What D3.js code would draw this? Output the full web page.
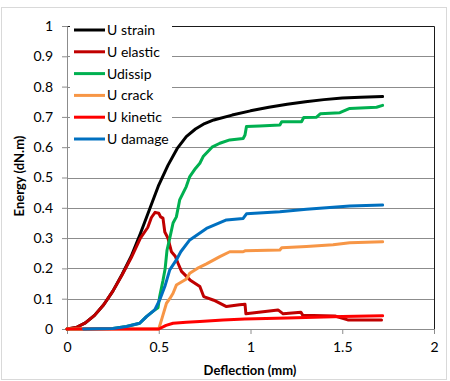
<!DOCTYPE html>
<style>
    body { margin: 0; background: #fff; }
    text { font-family: Lato, "Liberation Sans", sans-serif; fill: #000; }
    .axis-title { font-size: 13px; font-weight: bold; }
    .legend text { font-size: 14px; }
</style>
<body>
<script src="https://d3js.org/d3.v7.min.js"></script>
<script>
// series: [deflection mm, energy dN.m]
var strain = [[0,0],[0.05,0.005],[0.1,0.02],[0.15,0.045],[0.2,0.08],[0.25,0.125],[0.3,0.18],[0.35,0.24],
    [0.4,0.315],[0.45,0.395],[0.5,0.475],[0.55,0.54],[0.6,0.595],[0.65,0.635],[0.7,0.66],[0.75,0.678],
    [0.8,0.69],[0.9,0.706],[1.0,0.72],[1.1,0.732],[1.2,0.742],[1.3,0.75],[1.4,0.757],[1.5,0.762],[1.6,0.765],[1.72,0.767]];
var elastic = [[0,0],[0.05,0.005],[0.1,0.02],[0.15,0.045],[0.2,0.08],[0.25,0.125],[0.3,0.178],[0.35,0.235],
    [0.4,0.3],[0.44,0.335],[0.46,0.368],[0.48,0.385],[0.5,0.382],[0.51,0.37],[0.523,0.366],[0.533,0.32],
    [0.55,0.3],[0.569,0.255],[0.59,0.24],[0.605,0.217],[0.624,0.19],[0.67,0.162],[0.724,0.14],[0.745,0.107],
    [0.8,0.095],[0.869,0.074],[0.94,0.08],[0.97,0.082],[0.975,0.05],[1.15,0.063],[1.178,0.05],[1.275,0.055],
    [1.285,0.045],[1.46,0.043],[1.53,0.03],[1.714,0.03]];
var dissip = [[0,0],[0.1,0],[0.25,0.002],[0.324,0.008],[0.396,0.019],[0.433,0.041],[0.478,0.063],[0.496,0.07],
    [0.505,0.107],[0.523,0.16],[0.535,0.2],[0.545,0.26],[0.56,0.3],[0.578,0.35],[0.596,0.37],[0.614,0.426],
    [0.65,0.47],[0.669,0.503],[0.7,0.53],[0.724,0.547],[0.742,0.569],[0.79,0.6],[0.833,0.613],[0.887,0.624],
    [0.96,0.629],[0.97,0.64],[0.978,0.668],[1.05,0.67],[1.16,0.673],[1.17,0.684],[1.278,0.684],[1.29,0.698],
    [1.36,0.699],[1.38,0.71],[1.487,0.714],[1.541,0.728],[1.687,0.732],[1.72,0.738]];
var crack = [[0,0],[0.5,0],[0.52,0.04],[0.542,0.085],[0.56,0.1],[0.578,0.118],[0.596,0.145],[0.651,0.165],
    [0.669,0.184],[0.71,0.2],[0.76,0.215],[0.833,0.239],[0.887,0.255],[0.96,0.255],[0.97,0.258],[1.16,0.261],
    [1.17,0.268],[1.305,0.272],[1.45,0.278],[1.541,0.285],[1.72,0.288]];
var kinetic = [[0,0],[0.5,0],[0.54,0.012],[0.578,0.019],[0.65,0.022],[0.724,0.025],[0.851,0.03],[0.969,0.033],
    [1.2,0.036],[1.5,0.041],[1.72,0.044]];
var damage = [[0.09,0],[0.25,0.002],[0.324,0.008],[0.396,0.019],[0.433,0.041],[0.478,0.063],[0.505,0.096],
    [0.533,0.14],[0.56,0.195],[0.596,0.228],[0.62,0.255],[0.669,0.294],[0.76,0.332],[0.869,0.36],[0.96,0.365],
    [0.978,0.38],[1.16,0.387],[1.305,0.395],[1.541,0.406],[1.72,0.409]];

var seriesNames = ["U strain", "U elastic", "Udissip", "U crack", "U kinetic", "U damage"];
var seriesColors = ["#000000", "#c00000", "#00b050", "#f79646", "#ff0000", "#0070c0"];
var seriesData = [strain, elastic, dissip, crack, kinetic, damage];
var xTicks = [0, 0.5, 1, 1.5, 2];
var yTicks = [0, 0.1, 0.2, 0.3, 0.4, 0.5, 0.6, 0.7, 0.8, 0.9, 1];

var W = 450, H = 381;
var margin = {top: 26, right: 16, bottom: 52, left: 67};
var width = 434 - margin.left;
var height = 329 - margin.top;

var svg = d3.select("body").append("svg").attr("width", W).attr("height", H);

// outer chart border
svg.append("rect").attr("x", 1.5).attr("y", 7.5).attr("width", 445).attr("height", 372)
    .attr("fill", "#fff").attr("stroke", "#d9d9d9");

var g = svg.append("g").attr("transform", "translate(" + margin.left + "," + margin.top + ")");

var x = d3.scaleLinear().domain([0, 2]).range([0, width]);
var y = d3.scaleLinear().domain([0, 1]).range([height, 0]);

// gridlines
g.selectAll(".grid").data(yTicks.slice(1)).enter().append("line")
    .attr("x1", 0).attr("x2", width)
    .attr("y1", function(d) { return Math.round(y(d)) + 0.5; })
    .attr("y2", function(d) { return Math.round(y(d)) + 0.5; })
    .attr("stroke", "#8c8c8c").attr("stroke-width", 1);

// plot border (top / right)
g.append("path").attr("d", "M0,0.5H" + (width + 0.5) + "V" + height)
    .attr("fill", "none").attr("stroke", "#1a1a1a").attr("stroke-width", 1);

// axes
var yAxis = g.append("g").call(d3.axisLeft(y).tickValues(yTicks).tickSize(5).tickPadding(9).tickFormat(d3.format("")));
var xAxis = g.append("g").attr("transform", "translate(0," + height + ")")
    .call(d3.axisBottom(x).tickValues(xTicks).tickSize(5).tickPadding(8).tickFormat(d3.format("")));
[xAxis, yAxis].forEach(function(a) {
    a.select(".domain").attr("stroke", "#8c8c8c");
    a.selectAll(".tick line").attr("stroke", "#8c8c8c");
    a.selectAll(".tick text").style("font-family", "Lato, sans-serif").style("font-size", "14px");
});

// lines
var line = d3.line().x(function(d) { return x(d[0]); }).y(function(d) { return y(d[1]); });
seriesData.forEach(function(s, i) {
    g.append("path").datum(s).attr("d", line)
        .attr("fill", "none").attr("stroke", seriesColors[i])
        .attr("stroke-width", 3).attr("stroke-linejoin", "round").attr("stroke-linecap", "round");
});

// legend
var legend = svg.append("g").attr("class", "legend");
legend.append("rect").attr("x", 70).attr("y", 19).attr("width", 102).attr("height", 130).attr("fill", "#fff");
seriesNames.forEach(function(n, i) {
    var yy = 30 + i * 21.8;
    legend.append("line").attr("x1", 74).attr("x2", 105).attr("y1", yy).attr("y2", yy)
        .attr("stroke", seriesColors[i]).attr("stroke-width", 3);
    legend.append("text").attr("x", 107).attr("y", yy).attr("dy", "0.35em").text(n);
});

// axis titles
svg.append("text").attr("class", "axis-title").attr("text-anchor", "middle")
    .attr("transform", "translate(24,176) rotate(-90)").text("Energy (dN.m)");
svg.append("text").attr("class", "axis-title").attr("text-anchor", "middle")
    .attr("x", 250).attr("y", 375).text("Deflection (mm)");
</script>
